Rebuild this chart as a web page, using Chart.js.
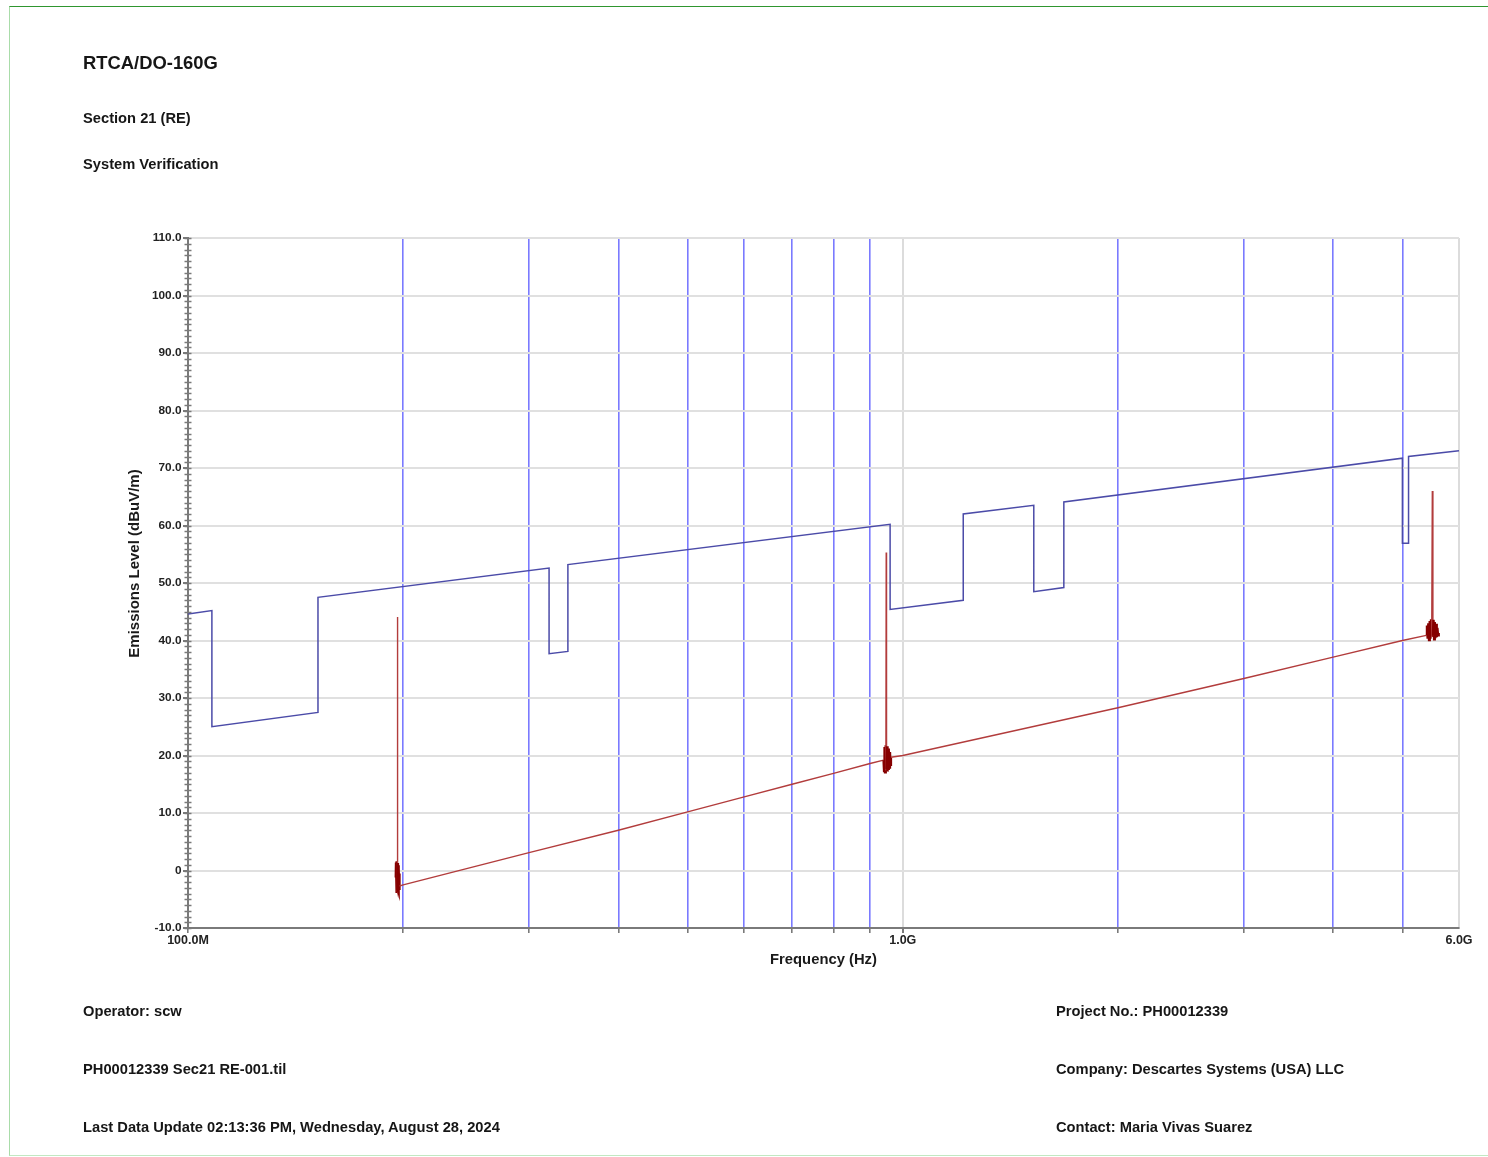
<!DOCTYPE html>
<html>
<head>
<meta charset="utf-8">
<script src="https://cdn.jsdelivr.net/npm/chart.js@4.4.1/dist/chart.umd.min.js"></script>
<style>
html,body{margin:0;padding:0;background:#fff;}
body{width:1488px;height:1157px;position:relative;overflow:hidden;font-family:"Liberation Sans",Arial,sans-serif;}
#frame{position:absolute;left:9px;top:6px;width:1500px;height:1150px;border-top:1.5px solid #2f962f;border-left:1px solid #a9dca9;border-bottom:1px solid #c2e8c2;box-sizing:border-box;}
.t{position:absolute;font-weight:bold;font-size:14.7px;line-height:14.7px;color:#161616;white-space:nowrap;}
#chartWrap{position:absolute;left:0;top:0;width:1488px;height:1157px;}
</style>
</head>
<body>
<div id="frame"></div>
<div id="chartWrap"><canvas id="c" width="1488" height="1157"></canvas></div>
<div class="t" style="left:83px;top:54px;font-size:18.4px;line-height:18.4px;">RTCA/DO-160G</div>
<div class="t" style="left:83px;top:111px;">Section 21 (RE)</div>
<div class="t" style="left:83px;top:157px;">System Verification</div>
<div class="t" style="left:83px;top:1004px;">Operator: scw</div>
<div class="t" style="left:83px;top:1062px;">PH00012339 Sec21 RE-001.til</div>
<div class="t" style="left:83px;top:1120px;">Last Data Update 02:13:36 PM, Wednesday, August 28, 2024</div>
<div class="t" style="left:1056px;top:1004px;">Project No.: PH00012339</div>
<div class="t" style="left:1056px;top:1062px;">Company: Descartes Systems (USA) LLC</div>
<div class="t" style="left:1056px;top:1120px;">Contact: Maria Vivas Suarez</div>
<script>
// ---- Data (frequencies in MHz, levels in dBuV/m) ----
const limitFreqMHz = [100, 108, 108, 152, 152, 320, 320, 340, 340, 960, 960, 1215, 1215, 1525, 1525, 1680, 1680, 5000, 5000, 5100, 5100, 6000];
const limitLevel   = [44.6, 45.2, 25.0, 27.5, 47.5, 52.6, 37.7, 38.1, 53.2, 60.2, 45.4, 47.0, 62.0, 63.5, 48.5, 49.2, 64.1, 71.7, 56.9, 56.9, 72.0, 73.0];

const measFreqMHz = [
  195.3, 195.45, 195.6, 195.75, 195.9, 196.05, 196.2, 196.35, 196.5, 196.65, 196.8, 196.95, 197.1, 197.25, 197.4, 197.55, 197.7,
  200, 300, 400, 500, 600, 700, 800, 900,
  940, 941.5, 943, 944.5, 946, 947, 948, 949, 950.5, 952, 953.5, 955, 956.5, 958, 959.5, 961, 962.5,
  1000, 2000, 3000, 4000, 5000,
  5400, 5412, 5424, 5436, 5448, 5460, 5472, 5484, 5495, 5506, 5516, 5527, 5538, 5549, 5560, 5572, 5584, 5596, 5608, 5620];
const measLevel = [
  -1.2, 1.4, -3.6, 1.6, -3.9, 1.1, -3.4, 44.1, -3.7, 1.3, -3.5, 0.9, -3.8, 0.4, -3.2, -0.5, -2.7,
  -2.5, 3.1, 7.0, 10.2, 12.8, 15.0, 16.9, 18.6,
  19.2, 17.3, 21.5, 17.1, 21.8, 17.4, 55.3, 17.6, 21.6, 17.2, 21.2, 17.5, 20.9, 17.9, 20.6, 18.4, 19.7,
  20.0, 28.3, 33.4, 37.1, 40.0,
  40.9, 42.6, 40.3, 43.0, 40.1, 43.4, 40.3, 43.7, 40.6, 66.0, 40.8, 43.6, 40.2, 43.2, 40.4, 42.9, 40.6, 42.2, 40.9, 41.3];

// dense (signal) regions of the measured trace, MHz
const clusterRangesMHz = [[195.2, 197.8], [939, 963], [5395, 5625]];

const xGridHz = [1e8, 2e8, 3e8, 4e8, 5e8, 6e8, 7e8, 8e8, 9e8, 1e9, 2e9, 3e9, 4e9, 5e9, 6e9];
const xTickLabels = ['100.0M', '', '', '', '', '', '', '', '', '1.0G', '', '', '', '', '6.0G'];
const xMajorHz = [1e9, 6e9];
const yMin = -10, yMax = 110, yStep = 10, yMinorStep = 1;

// ---- Layout ----
const pad = {left: 100, top: 238, right: 29, bottom: 150};
const AREA_LEFT = 188, AREA_BOTTOM = 928, CANVAS_H = 1157;
const tickFont = {family: '"Liberation Sans", Arial, sans-serif', weight: 'bold'};

const inCluster = hz => clusterRangesMHz.some(r => hz >= r[0] * 1e6 && hz <= r[1] * 1e6);
const isSpike = c => Math.abs(c.p1.parsed.y - c.p0.parsed.y) > 12;
const dense = c => inCluster(c.p0.parsed.x) && inCluster(c.p1.parsed.x) && !isSpike(c);

const minorTicks = {
  id: 'minorTicks',
  afterDraw(chart) {
    const ys = chart.scales.y, ctx = chart.ctx, x0 = chart.chartArea.left;
    ctx.save();
    ctx.strokeStyle = '#7a7a7a';
    ctx.lineWidth = 1.5;
    for (let v = yMin; v <= yMax; v += yMinorStep) {
      const py = Math.round(ys.getPixelForValue(v)) + 0.5;
      ctx.beginPath();
      ctx.moveTo(x0 - 3.5, py);
      ctx.lineTo(x0 + 3.5, py);
      ctx.stroke();
    }
    ctx.restore();
  }
};
const yTitle = {
  id: 'yTitle',
  afterDraw(chart) {
    const ctx = chart.ctx;
    ctx.save();
    ctx.translate(135, 563.5);
    ctx.rotate(-Math.PI / 2);
    ctx.font = 'bold 15px "Liberation Sans", Arial, sans-serif';
    ctx.fillStyle = '#1a1a1a';
    ctx.textAlign = 'center';
    ctx.textBaseline = 'middle';
    ctx.fillText('Emissions Level (dBuV/m)', 0, 0);
    ctx.restore();
  }
};

new Chart(document.getElementById('c'), {
  type: 'scatter',
  data: {
    datasets: [
      {
        label: 'Limit',
        data: limitFreqMHz.map((f, i) => ({x: f * 1e6, y: limitLevel[i]})),
        showLine: true, borderColor: '#4b4ba8', borderWidth: 1.5,
        pointRadius: 0, tension: 0
      },
      {
        label: 'Measured',
        data: measFreqMHz.map((f, i) => ({x: f * 1e6, y: measLevel[i]})),
        showLine: true, borderColor: '#b23c3c', borderWidth: 1.4,
        pointRadius: 0, tension: 0,
        segment: {
          borderColor: c => dense(c) ? '#860000' : '#b23c3c',
          borderWidth: c => dense(c) ? 2.4 : 1.4
        }
      }
    ]
  },
  options: {
    responsive: false,
    animation: false,
    devicePixelRatio: 1,
    layout: {padding: pad},
    plugins: {legend: {display: false}, tooltip: {enabled: false}},
    scales: {
      x: {
        type: 'logarithmic',
        min: 1e8, max: 6e9,
        afterBuildTicks: s => { s.ticks = xGridHz.map(v => ({value: v})); },
        afterFit: s => { s.height = CANVAS_H - pad.bottom - AREA_BOTTOM; },
        ticks: {
          autoSkip: false, maxRotation: 0, minRotation: 0, padding: 0.5,
          font: Object.assign({size: 12.5}, tickFont), color: '#222',
          callback: (v, i) => xTickLabels[i]
        },
        grid: {
          color: c => {
            const v = c.tick ? c.tick.value : 0;
            if (v === 1e8) return 'rgba(0,0,0,0)';
            return xMajorHz.includes(v) ? '#dcdcdc' : '#7a7aff';
          },
          lineWidth: c => (c.tick && xMajorHz.includes(c.tick.value)) ? 2 : 1.6,
          tickColor: c => (c.tick && c.tick.value === 6e9) ? 'rgba(0,0,0,0)' : '#7a7a7a',
          tickLength: 5
        },
        border: {color: '#7a7a7a', width: 2},
        title: {
          display: true, text: 'Frequency (Hz)', color: '#1a1a1a',
          font: Object.assign({size: 14.8}, tickFont),
          padding: {top: 4, bottom: 38.6}
        }
      },
      y: {
        min: yMin, max: yMax,
        afterFit: s => { s.width = AREA_LEFT - pad.left; },
        ticks: {
          stepSize: yStep, padding: 1.5, color: '#222',
          font: Object.assign({size: 11.8}, tickFont),
          callback: v => v === 0 ? '0' : v.toFixed(1)
        },
        grid: {color: '#e0e0e0', lineWidth: 2, tickColor: '#7a7a7a', tickLength: 5},
        border: {color: '#7a7a7a', width: 2}
      }
    }
  },
  plugins: [minorTicks, yTitle]
});
</script>
</body>
</html>
